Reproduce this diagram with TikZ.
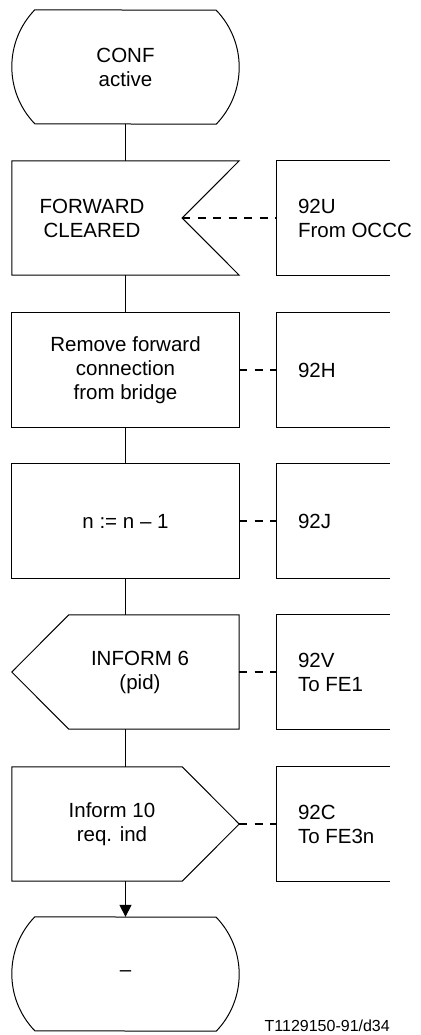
\documentclass[tikz,border=0pt]{standalone}
\usepackage{fontspec}
\setmainfont{Liberation Sans}
\usetikzlibrary{arrows.meta,calc}
\begin{document}
\begin{tikzpicture}[
  x=1pt,y=1pt,
  every node/.style={font=\fontsize{20.5pt}{24pt}\selectfont, inner sep=0pt},
  mainbox/.style={minimum width=227pt, minimum height=114pt, draw=none, align=center},
  refbox/.style={minimum width=113pt, minimum height=114pt, draw=none},
  boxline/.style={line width=1pt, line join=miter},
  conn/.style={line width=1.6pt},
  dashconn/.style={line width=1.4pt, dash pattern=on 8pt off 7.5pt},
  reftext/.style={anchor=west, align=left},
  txt/.style={align=center}
]
\useasboundingbox (0,0) rectangle (420,-1035);

% main column nodes
\node[mainbox] (s1) at (125.5,-67) {CONF\\active};
\node[mainbox] (fc) at (125.5,-218) {};
\node[mainbox] (rm) at (125.5,-370) {Remove forward\\connection\\from bridge};
\node[mainbox] (nn) at (125.5,-521) {n := n – 1};
\node[mainbox] (i6) at (125.5,-672) {};
\node[mainbox] (i10) at (125.5,-824) {};
\node[mainbox] (s2) at (125.5,-974) {–};

% off-centre texts
\node[txt] (tfc) at (92,-218) {FORWARD\\CLEARED};
\node[txt] (ti6) at (140,-672) {INFORM 6\\(pid)};
\node[txt] (ti10) at (112,-824) {Inform 10\\req. ind};

% shapes
\draw[boxline] ([xshift=23pt]s1.north west) arc[start angle=136.04, end angle=223.96, radius=82.1pt]
  -- ([xshift=-23pt]s1.south east) arc[start angle=-43.96, end angle=43.96, radius=82.1pt] -- cycle;
\draw[boxline] ([xshift=23pt]s2.north west) arc[start angle=136.04, end angle=223.96, radius=82.1pt]
  -- ([xshift=-23pt]s2.south east) arc[start angle=-43.96, end angle=43.96, radius=82.1pt] -- cycle;
\coordinate (fcn) at ([xshift=-57pt]fc.east);
\draw[boxline] (fc.north west) -- (fc.north east) -- (fcn) -- (fc.south east) -- (fc.south west) -- cycle;
\draw[boxline] (rm.north west) rectangle (rm.south east);
\draw[boxline] (nn.north west) rectangle (nn.south east);
\draw[boxline] (i6.west) -- ([xshift=57pt]i6.north west) -- (i6.north east) -- (i6.south east)
  -- ([xshift=57pt]i6.south west) -- cycle;
\draw[boxline] (i10.north west) -- ([xshift=-57pt]i10.north east) -- (i10.east)
  -- ([xshift=-57pt]i10.south east) -- (i10.south west) -- cycle;

% reference boxes (open to the right)
\node[refbox] (r1) at (333.5,-218) {};
\node[refbox] (r2) at (333.5,-370) {};
\node[refbox] (r3) at (333.5,-521) {};
\node[refbox] (r4) at (333.5,-672) {};
\node[refbox] (r5) at (333.5,-824) {};
\foreach \r in {r1,r2,r3,r4,r5}{
  \draw[boxline] (\r.north east) -- (\r.north west) -- (\r.south west) -- (\r.south east);
}
\node[reftext] (tr1) at ([xshift=21pt]r1.west) {92U\\From OCCC};
\node[reftext] (tr2) at ([xshift=21pt]r2.west) {92H};
\node[reftext] (tr3) at ([xshift=21pt]r3.west) {92J};
\node[reftext] (tr4) at ([xshift=21pt]r4.west) {92V\\To FE1};
\node[reftext] (tr5) at ([xshift=21pt]r5.west) {92C\\To FE3n};

% connectors
\draw[conn] (s1.south) -- (fc.north);
\draw[conn] (fc.south) -- (rm.north);
\draw[conn] (rm.south) -- (nn.north);
\draw[conn] (nn.south) -- (i6.north);
\draw[conn] (i6.south) -- (i10.north);
\draw[conn, -{Triangle[length=12pt,width=12pt]}] (i10.south) -- (s2.north);

% dashed links
\draw[dashconn] (fcn) -- (r1.west);
\draw[dashconn] (rm.east) -- (r2.west);
\draw[dashconn] (nn.east) -- (r3.west);
\draw[dashconn] (i6.east) -- (r4.west);
\draw[dashconn] (i10.east) -- (r5.west);

% figure id
\node[anchor=base east, font=\fontsize{16pt}{19pt}\selectfont] (fid) at (390,-1031) {T1129150-91/d34};
\end{tikzpicture}
\end{document}
